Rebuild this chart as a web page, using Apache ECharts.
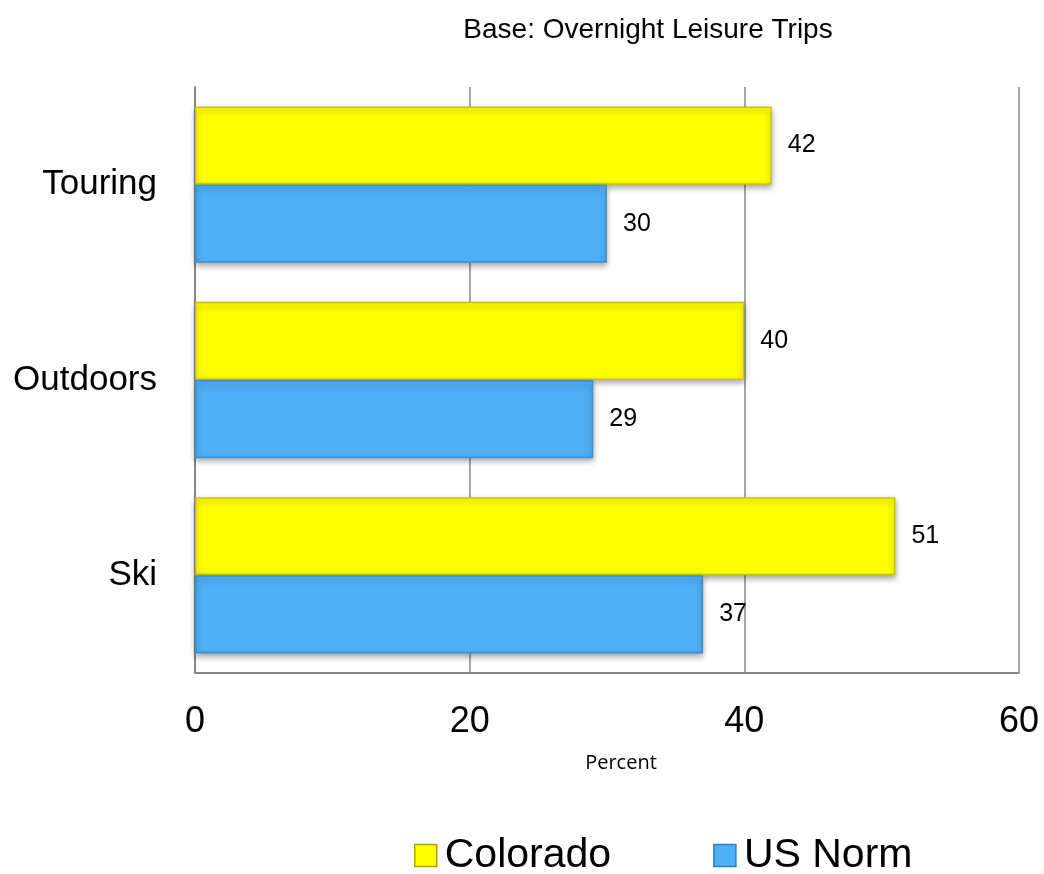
<!DOCTYPE html>
<html><head><meta charset="utf-8">
<script src="https://cdn.jsdelivr.net/npm/echarts@6/dist/echarts.min.js"></script>
<style>html,body{margin:0;padding:0;background:#fff}#c{width:1044px;height:874px}</style>
</head><body><div id="c"></div>
<script>
const categories = ['Ski', 'Outdoors', 'Touring'];
const colorado = [51, 40, 42];
const usNorm = [37, 29, 30];
const xTicks = [0, 20, 40, 60];

const ARIAL = "'Liberation Sans', Arial, sans-serif";
const chart = echarts.init(document.getElementById('c'));
const lbl = {show: true, position: 'right', distance: 16, color: '#000', fontSize: 25, fontFamily: ARIAL};
chart.setOption({
  animation: false,
  title: {text: 'Base: Overnight Leisure Trips', left: 643, top: 11, textAlign: 'center',
    textStyle: {fontSize: 28, fontWeight: 'normal', color: '#000', fontFamily: ARIAL}},
  legend: {top: 830, left: 409, itemWidth: 22, itemHeight: 22, itemGap: 102, icon: 'rect',
    textStyle: {fontSize: 41, color: '#000', fontFamily: ARIAL, padding: [0, 0, 0, 3]},
    data: [
      {name: 'Colorado', itemStyle: {color: '#FFFF00', borderColor: '#A8A800', borderWidth: 1.5}},
      {name: 'US Norm', itemStyle: {color: '#4FAFF7', borderColor: '#2F7FC0', borderWidth: 1.5}}
    ]},
  grid: {left: 195, right: 25, top: 87, bottom: 201, containLabel: false, outerBoundsMode: 'none'},
  xAxis: {type: 'value', min: 0, max: 60, interval: 20,
    name: 'Percent', nameLocation: 'middle', nameGap: 80,
    nameTextStyle: {fontSize: 20, color: '#000', fontFamily: "'Open Sans', sans-serif", padding: [0, 0, 0, 28]},
    axisLine: {show: true, lineStyle: {color: '#888', width: 2}},
    axisTick: {show: false},
    axisLabel: {fontSize: 36, color: '#000', margin: 31, fontFamily: ARIAL,
      formatter: v => xTicks.includes(v) ? String(v) : ''},
    splitLine: {show: true, lineStyle: {color: '#888', width: 1.5}}},
  yAxis: {type: 'category', data: categories,
    axisLine: {show: true, lineStyle: {color: '#888', width: 2}},
    axisTick: {show: false},
    axisLabel: {fontSize: 35, color: '#000', margin: 38, fontFamily: ARIAL}},
  series: [
    {name: 'Colorado', type: 'bar', data: colorado, barGap: '0%', barCategoryGap: '20%',
      itemStyle: {color: '#FFFF00', borderColor: '#C8C800', borderWidth: 1.5,
        shadowColor: 'rgba(0,0,0,0.35)', shadowBlur: 6, shadowOffsetY: 3},
      label: lbl},
    {name: 'US Norm', type: 'bar', data: usNorm,
      itemStyle: {color: '#4FAFF7', borderColor: '#3A90D0', borderWidth: 1.5,
        shadowColor: 'rgba(0,0,0,0.35)', shadowBlur: 6, shadowOffsetY: 3},
      label: lbl}
  ]
});
</script></body></html>
